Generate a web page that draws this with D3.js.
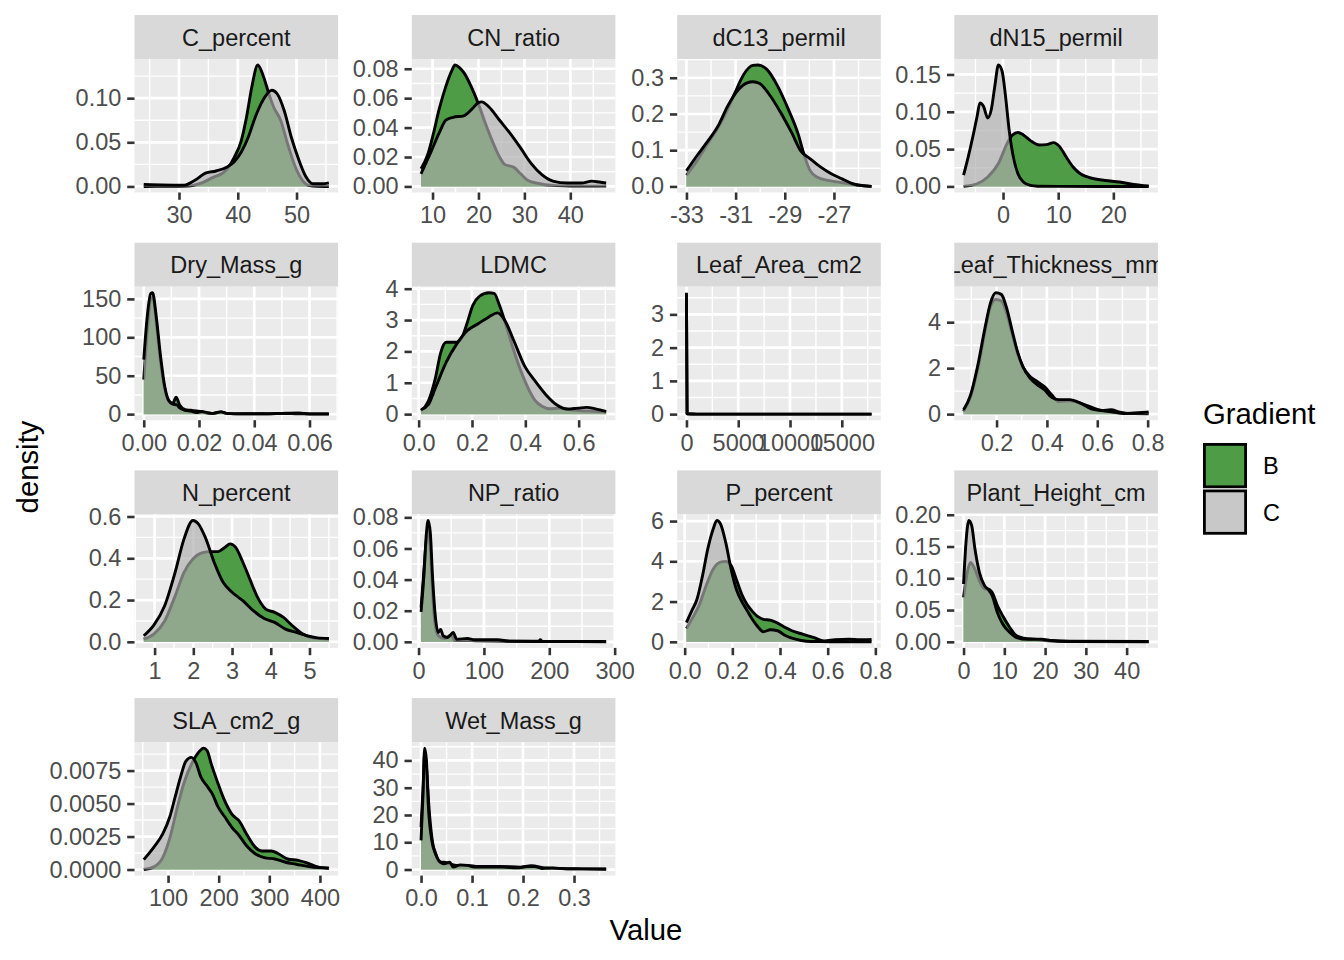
<!DOCTYPE html>
<html><head><meta charset="utf-8">
<script src="https://cdn.jsdelivr.net/npm/d3@7"></script>
<style>
body{margin:0;background:#fff}
svg{display:block}
text{font-family:"Liberation Sans",Arial,Helvetica,sans-serif}
</style>
</head><body>
<svg id="chart" width="1344" height="960"></svg>
<script>
// ---------------- DATA ----------------
const facetNames = ["C_percent","CN_ratio","dC13_permil","dN15_permil","Dry_Mass_g","LDMC","Leaf_Area_cm2","Leaf_Thickness_mm","N_percent","NP_ratio","P_percent","Plant_Height_cm","SLA_cm2_g","Wet_Mass_g"];
const groups = ["B","C"];

// density curves: [value, density]
const C_percent_B = [[24,0],[28,0.0001],[31.5,0.0005],[33.9,0.004],[35.7,0.010],[37.6,0.016],[38.2,0.020],[39.4,0.033],[40.6,0.052],[41.5,0.079],[42.4,0.113],[43.4,0.1375],[44.3,0.126],[45.2,0.107],[46.1,0.090],[47.3,0.075],[48.5,0.048],[49.8,0.022],[51.0,0.007],[52.2,0.001],[53.5,0.0002],[55.5,0]];
const C_percent_C = [[24,0.0023],[27,0.0018],[30.9,0.0015],[32.7,0.007],[34.5,0.015],[36.3,0.0175],[38.2,0.022],[39.4,0.028],[40.6,0.039],[41.8,0.056],[43.0,0.079],[44.3,0.098],[45.8,0.109],[46.7,0.105],[47.9,0.086],[49.1,0.056],[50.4,0.030],[51.6,0.011],[52.8,0.003],[54.3,0.003],[55.5,0.004]];

const CN_ratio_B = [[7.5,0.012],[9.0,0.022],[10.2,0.036],[11.4,0.052],[12.9,0.068],[14.1,0.078],[14.9,0.0825],[15.8,0.081],[16.9,0.077],[18.4,0.068],[20.0,0.056],[21.5,0.043],[23.0,0.031],[24.6,0.020],[25.7,0.015],[27.7,0.013],[29.2,0.0086],[30.8,0.004],[33.1,0.002],[36.2,0.0007],[40,0.0003],[44,0.0002],[47.8,0.0002]];
const CN_ratio_C = [[7.5,0.0086],[9.8,0.0245],[11.4,0.036],[12.9,0.045],[14.5,0.047],[16.8,0.048],[18.4,0.052],[20.0,0.057],[20.7,0.0575],[22.3,0.054],[24.6,0.045],[26.9,0.036],[29.2,0.026],[31.5,0.0155],[33.8,0.008],[36.2,0.0036],[39.3,0.0023],[42.4,0.0023],[44.7,0.0036],[46.3,0.003],[47.8,0.0023]];

const dC13_B = [[-33,0.031],[-32.56,0.072],[-32.13,0.119],[-31.69,0.165],[-31.33,0.212],[-31.03,0.258],[-30.67,0.309],[-30.3,0.334],[-30.09,0.335],[-29.73,0.323],[-29.29,0.277],[-28.85,0.212],[-28.42,0.137],[-28.27,0.10],[-27.98,0.045],[-27.69,0.026],[-27.25,0.0167],[-26.82,0.012],[-26.38,0.0074],[-25.95,0.003],[-25.47,0]];
const dC13_C = [[-33,0.043],[-32.56,0.086],[-32.2,0.119],[-31.69,0.17],[-31.33,0.221],[-30.89,0.267],[-30.53,0.286],[-30.3,0.289],[-30.02,0.284],[-29.58,0.249],[-29.15,0.202],[-28.71,0.147],[-28.35,0.098],[-27.98,0.077],[-27.55,0.054],[-27.11,0.035],[-26.67,0.021],[-26.24,0.0074],[-25.8,0.002],[-25.47,0]];

const dN15_B = [[-7.16,0],[-4.7,0.0036],[-2.77,0.0126],[-0.84,0.0307],[0.77,0.058],[1.74,0.069],[2.7,0.0723],[3.68,0.069],[4.97,0.0614],[6.58,0.0556],[7.87,0.056],[9.16,0.0587],[10.26,0.0533],[11.42,0.0398],[12.7,0.026],[14.0,0.017],[15.9,0.0113],[18.5,0.008],[21.1,0.0059],[23.7,0.0027],[26.4,0.0005]];
const dN15_C = [[-7.16,0.015],[-6.3,0.04],[-5.35,0.071],[-4.7,0.094],[-4.19,0.112],[-3.55,0.1075],[-2.77,0.0917],[-2.13,0.103],[-1.48,0.135],[-0.84,0.1626],[-0.19,0.155],[0.45,0.121],[1.1,0.076],[1.74,0.044],[2.7,0.017],[3.68,0.006],[4.97,0.0014],[6.26,0.0003],[10,0.0001],[18,0],[26.4,0]];

const Dry_Mass_B = [[0,45],[0.0013,110],[0.0025,150],[0.0033,152],[0.0045,120],[0.006,70],[0.0075,35],[0.009,17],[0.0105,14],[0.0117,22],[0.013,12],[0.015,6],[0.017,5],[0.019,4],[0.021,3],[0.023,1.5],[0.025,1],[0.028,3],[0.03,1],[0.035,0.5],[0.04,0.3],[0.045,0.5],[0.05,0.8],[0.055,0.5],[0.06,0.2],[0.067,0.1]];
const Dry_Mass_C = [[0,71],[0.0012,125],[0.0025,157],[0.0032,158],[0.0045,128],[0.006,78],[0.0075,38],[0.009,18],[0.0105,13],[0.012,12],[0.013,8],[0.015,5],[0.017,4],[0.019,2],[0.021,3.5],[0.023,2],[0.025,1],[0.027,2.5],[0.028,3],[0.03,1],[0.035,0.3],[0.04,0.5],[0.045,0.4],[0.05,1],[0.056,1.5],[0.06,0.4],[0.067,0.3]];

const LDMC_B = [[0.009,0.11],[0.036,0.41],[0.063,1.16],[0.083,1.97],[0.103,2.29],[0.123,2.29],[0.143,2.29],[0.163,2.45],[0.183,2.94],[0.203,3.47],[0.229,3.76],[0.263,3.87],[0.283,3.85],[0.303,3.47],[0.33,2.77],[0.357,2.02],[0.383,1.38],[0.41,0.84],[0.437,0.43],[0.463,0.25],[0.49,0.17],[0.53,0.19],[0.57,0.14],[0.61,0.11],[0.663,0.09],[0.703,0.06]];
const LDMC_C = [[0.009,0.14],[0.036,0.3],[0.063,0.84],[0.103,1.65],[0.143,2.24],[0.183,2.67],[0.223,2.88],[0.263,3.1],[0.296,3.23],[0.323,2.99],[0.357,2.34],[0.397,1.54],[0.437,1.05],[0.477,0.62],[0.517,0.3],[0.557,0.16],[0.597,0.19],[0.63,0.215],[0.663,0.17],[0.703,0.086]];

const Leaf_Area_B = [[0,3.6],[60,0.01],[1000,0],[17870,0]];
const Leaf_Area_C = [[0,3.65],[60,0.01],[1000,0],[17870,0]];

const Leaf_Thickness_B = [[0.069,0.12],[0.097,0.77],[0.126,2.0],[0.154,3.6],[0.176,4.7],[0.197,4.99],[0.219,4.92],[0.24,4.4],[0.261,3.53],[0.283,2.66],[0.304,2.08],[0.333,1.64],[0.361,1.42],[0.39,1.2],[0.419,0.84],[0.447,0.55],[0.49,0.58],[0.533,0.48],[0.576,0.3],[0.619,0.16],[0.654,0.19],[0.69,0.09],[0.747,0.02],[0.804,0.015]];
const Leaf_Thickness_C = [[0.069,0.19],[0.097,0.84],[0.126,2.15],[0.154,3.75],[0.176,4.84],[0.197,5.28],[0.219,5.21],[0.24,4.62],[0.261,3.68],[0.283,2.73],[0.304,2.08],[0.333,1.57],[0.361,1.28],[0.39,1.06],[0.419,0.73],[0.447,0.63],[0.49,0.63],[0.533,0.48],[0.576,0.23],[0.619,0.15],[0.661,0.09],[0.704,0.03],[0.761,0.06],[0.804,0.09]];

const N_percent_B = [[0.72,0.013],[0.98,0.037],[1.26,0.1],[1.53,0.22],[1.76,0.333],[1.99,0.397],[2.22,0.426],[2.45,0.432],[2.64,0.432],[2.82,0.453],[2.95,0.469],[3.09,0.453],[3.28,0.381],[3.46,0.3],[3.64,0.22],[3.87,0.157],[4.1,0.141],[4.33,0.117],[4.56,0.077],[4.83,0.037],[5.11,0.018],[5.5,0.013]];
const N_percent_C = [[0.72,0.029],[0.98,0.08],[1.26,0.173],[1.53,0.333],[1.76,0.493],[1.99,0.581],[2.13,0.565],[2.31,0.5],[2.54,0.38],[2.77,0.285],[3.0,0.237],[3.28,0.197],[3.55,0.149],[3.83,0.112],[4.1,0.093],[4.38,0.061],[4.66,0.045],[4.93,0.029],[5.21,0.019],[5.5,0.016]];

const NP_ratio_B = [[3.8,0.022],[8,0.045],[12,0.066],[14.5,0.072],[18,0.06],[21,0.035],[25,0.012],[30,0.004],[40,0.002],[50,0.0045],[55,0.001],[80,0.0008],[120,0.0005],[200,0.0002],[287,0.0001]];
const NP_ratio_C = [[3.8,0.0193],[8.2,0.0425],[12,0.07],[14.7,0.078],[18,0.07],[21.3,0.0425],[25.6,0.0167],[30,0.006],[33.8,0.008],[37.6,0.0039],[44.7,0.0028],[52.9,0.006],[58.3,0.0017],[74.7,0.0021],[85.6,0.0013],[101.9,0.0013],[121,0.0013],[140,0.0004],[183.7,0.0004],[186.4,0.0013],[189,0.0004],[287,0.0003]];

const P_percent_B = [[0.0075,0.66],[0.03,1.13],[0.06,1.8],[0.09,2.79],[0.12,3.62],[0.15,3.96],[0.172,4.0],[0.195,3.79],[0.217,3.1],[0.24,2.35],[0.262,1.85],[0.285,1.5],[0.307,1.25],[0.33,1.12],[0.36,1.08],[0.39,0.93],[0.42,0.72],[0.45,0.55],[0.495,0.38],[0.54,0.22],[0.585,0.05],[0.63,0.1],[0.69,0.13],[0.735,0.1],[0.784,0.12]];
const P_percent_C = [[0.0075,0.96],[0.03,1.55],[0.052,2.13],[0.075,3.29],[0.097,4.62],[0.12,5.62],[0.135,6.03],[0.15,5.87],[0.172,4.95],[0.195,3.6],[0.217,2.6],[0.24,2.0],[0.262,1.55],[0.285,1.1],[0.307,0.75],[0.33,0.5],[0.36,0.6],[0.39,0.55],[0.42,0.33],[0.465,0.13],[0.51,0.03],[0.57,0.01],[0.65,0],[0.784,0]];

const Plant_Height_B = [[0,0.07],[0.9,0.109],[1.7,0.125],[2.6,0.117],[3.9,0.096],[5.2,0.083],[6.1,0.083],[7.0,0.078],[8.3,0.057],[9.6,0.041],[11.3,0.023],[13,0.0095],[14.8,0.0058],[17.4,0.004],[20.9,0.0016],[26,0.0005],[45.4,0]];
const Plant_Height_C = [[0,0.091],[0.6,0.157],[1.3,0.191],[2.0,0.183],[2.8,0.146],[3.9,0.109],[5.2,0.088],[6.1,0.082],[7.0,0.073],[8.3,0.046],[9.6,0.028],[11.3,0.015],[13,0.0068],[15.7,0.004],[19.1,0.004],[21.7,0.002],[26,0.001],[45.4,0.0005]];

const SLA_B = [[52,0],[72,0.0002],[89.5,0.0009],[103.5,0.0024],[117.6,0.0046],[131.7,0.0066],[149,0.0082],[163,0.009],[170,0.0092],[177.5,0.009],[184.5,0.0081],[198,0.0066],[212,0.0052],[226,0.0042],[240,0.0037],[255,0.0027],[272,0.0017],[286,0.0014],[304,0.0014],[318,0.0012],[336,0.0008],[357,0.0007],[374.5,0.0005],[395.6,0.0002],[417.6,0.0001]];
const SLA_C = [[52,0.00075],[72,0.0017],[89.5,0.0027],[103.5,0.004],[114,0.0055],[124.6,0.007],[135,0.0082],[146,0.0085],[155,0.0081],[165,0.007],[177.5,0.0063],[188,0.0057],[198,0.0048],[212,0.004],[226,0.0032],[240,0.0026],[255,0.0018],[272,0.0012],[290,0.0009],[311,0.0008],[332,0.00055],[353,0.0004],[381,0.0002],[417.6,0.0001]];

const Wet_Mass_B = [[0,15.6],[0.004,30.4],[0.007,42.7],[0.011,36.6],[0.0155,23],[0.022,10.7],[0.03,5.2],[0.036,2.7],[0.045,2.7],[0.056,2.1],[0.07,1.5],[0.091,1.5],[0.112,1.1],[0.154,1.1],[0.195,0.9],[0.216,1.4],[0.244,0.6],[0.272,0.4],[0.314,0.25],[0.363,0.12]];
const Wet_Mass_C = [[0,10.7],[0.004,28],[0.007,44.5],[0.0105,40.2],[0.014,24.2],[0.021,10.7],[0.028,5.8],[0.035,3.3],[0.045,2.1],[0.056,2.7],[0.063,0.9],[0.077,1.7],[0.091,1.5],[0.105,0.9],[0.133,0.9],[0.161,0.9],[0.188,0.6],[0.209,1.1],[0.223,1.1],[0.237,0.4],[0.258,0.6],[0.286,0.25],[0.363,0.25]];

// tick labels per facet
const xTickLabels = [
  ["30","40","50"], ["10","20","30","40"], ["-33","-31","-29","-27"], ["0","10","20"],
  ["0.00","0.02","0.04","0.06"], ["0.0","0.2","0.4","0.6"], ["0","5000","10000","15000"], ["0.2","0.4","0.6","0.8"],
  ["1","2","3","4","5"], ["0","100","200","300"], ["0.0","0.2","0.4","0.6","0.8"], ["0","10","20","30","40"],
  ["100","200","300","400"], ["0.0","0.1","0.2","0.3"]
];
const yTickLabels = [
  ["0.00","0.05","0.10"], ["0.00","0.02","0.04","0.06","0.08"], ["0.0","0.1","0.2","0.3"], ["0.00","0.05","0.10","0.15"],
  ["0","50","100","150"], ["0","1","2","3","4"], ["0","1","2","3"], ["0","2","4"],
  ["0.0","0.2","0.4","0.6"], ["0.00","0.02","0.04","0.06","0.08"], ["0","2","4","6"], ["0.00","0.05","0.10","0.15","0.20"],
  ["0.0000","0.0025","0.0050","0.0075"], ["0","10","20","30","40"]
];
const curvesB = [C_percent_B,CN_ratio_B,dC13_B,dN15_B,Dry_Mass_B,LDMC_B,Leaf_Area_B,Leaf_Thickness_B,N_percent_B,NP_ratio_B,P_percent_B,Plant_Height_B,SLA_B,Wet_Mass_B];
const curvesC = [C_percent_C,CN_ratio_C,dC13_C,dN15_C,Dry_Mass_C,LDMC_C,Leaf_Area_C,Leaf_Thickness_C,N_percent_C,NP_ratio_C,P_percent_C,Plant_Height_C,SLA_C,Wet_Mass_C];

// ---------------- LAYOUT / STYLE ----------------
const colLeft = [134.5, 411.8, 677.2, 954.3];
const stripTop = [15, 242.7, 470.4, 698.1];
const PW = 203.6, PH = 133.5, SH = 44;
const fillB = "#4e9c46";
const fillC = "#aeaeae", alphaC = 0.68;
const colorOf = {B: fillB, C: fillC};
const alphaOf = {B: 1, C: alphaC};
const AX = 23.5;

const svg = d3.select("#chart");
svg.append("rect").attr("width",1344).attr("height",960).attr("fill","#fff");
const defs = svg.append("defs");

function minorBreaks(majors, dom){
  const step = majors[1]-majors[0];
  const b = [majors[0]-step, ...majors, majors[majors.length-1]+step];
  const out = [];
  for (let k=0;k<b.length-1;k++){ const m=(b[k]+b[k+1])/2; if (m>=dom[0] && m<=dom[1]) out.push(m); }
  return out;
}

facetNames.forEach((name, i) => {
  const col = i % 4, row = Math.floor(i / 4);
  const left = colLeft[col], sTop = stripTop[row], top = sTop + SH;
  const dataB = curvesB[i], dataC = curvesC[i];
  const all = dataB.concat(dataC);
  const [x0, x1] = d3.extent(all, d => d[0]);
  const xr = x1 - x0;
  const ymax = d3.max(all, d => d[1]);
  const xDom = [x0 - 0.05*xr, x1 + 0.05*xr];
  const yDom = [-0.05*ymax, 1.05*ymax];
  const x = d3.scaleLinear().domain(xDom).range([left, left+PW]);
  const y = d3.scaleLinear().domain(yDom).range([top+PH, top]);
  const xt = xTickLabels[i].map(Number), yt = yTickLabels[i].map(Number);

  const g = svg.append("g");
  // strip
  defs.append("clipPath").attr("id","sclip"+i).append("rect")
    .attr("x",left).attr("y",sTop).attr("width",PW).attr("height",SH);
  g.append("rect").attr("x",left).attr("y",sTop).attr("width",PW).attr("height",SH).attr("fill","#D9D9D9");
  g.append("text").attr("clip-path","url(#sclip"+i+")")
    .attr("x",left+PW/2).attr("y",sTop+SH/2+0.5).attr("dy","0.35em")
    .attr("text-anchor","middle").attr("font-size",AX).attr("fill","#1A1A1A").text(name);

  // panel
  defs.append("clipPath").attr("id","pclip"+i).append("rect")
    .attr("x",left).attr("y",top).attr("width",PW).attr("height",PH);
  g.append("rect").attr("x",left).attr("y",top).attr("width",PW).attr("height",PH).attr("fill","#EBEBEB");
  const grid = g.append("g").attr("stroke","#fff");
  minorBreaks(xt, xDom).forEach(v => grid.append("line").attr("x1",x(v)).attr("x2",x(v)).attr("y1",top).attr("y2",top+PH).attr("stroke-width",1.4));
  minorBreaks(yt, yDom).forEach(v => grid.append("line").attr("y1",y(v)).attr("y2",y(v)).attr("x1",left).attr("x2",left+PW).attr("stroke-width",1.4));
  xt.forEach(v => grid.append("line").attr("x1",x(v)).attr("x2",x(v)).attr("y1",top).attr("y2",top+PH).attr("stroke-width",2.7));
  yt.forEach(v => grid.append("line").attr("y1",y(v)).attr("y2",y(v)).attr("x1",left).attr("x2",left+PW).attr("stroke-width",2.7));

  const area = d3.area().curve(d3.curveMonotoneX).x(d => x(d[0])).y0(y(0)).y1(d => y(d[1]));
  const line = d3.line().curve(d3.curveMonotoneX).x(d => x(d[0])).y(d => y(d[1]));
  const pg = g.append("g").attr("clip-path","url(#pclip"+i+")");
  [["B",dataB],["C",dataC]].forEach(([k,d]) => {
    pg.append("path").datum(d).attr("d",area).attr("fill",colorOf[k]).attr("fill-opacity",alphaOf[k]);
    pg.append("path").datum(d).attr("d",line).attr("fill","none").attr("stroke","#000").attr("stroke-width",2.9).attr("stroke-linejoin","round");
  });

  // axes
  const xa = g.append("g").attr("transform",`translate(0,${top+PH})`)
    .call(d3.axisBottom(x).tickValues(xt).tickFormat((d,j)=>xTickLabels[i][j]).tickSize(7.3).tickPadding(6.8));
  const ya = g.append("g").attr("transform",`translate(${left},0)`)
    .call(d3.axisLeft(y).tickValues(yt).tickFormat((d,j)=>yTickLabels[i][j]).tickSize(7.3).tickPadding(5.9));
  [xa, ya].forEach(a => {
    a.select(".domain").remove();
    a.selectAll(".tick line").attr("stroke","#333333").attr("stroke-width",2.6);
    a.selectAll(".tick text").attr("font-size",AX).attr("fill","#4D4D4D").attr("font-family",'"Liberation Sans",Arial,sans-serif');
  });
});

// axis titles
svg.append("text").attr("x",646).attr("y",940).attr("text-anchor","middle").attr("font-size",29.3).attr("fill","#000").text("Value");
svg.append("text").attr("transform","translate(38,467) rotate(-90)").attr("text-anchor","middle").attr("font-size",29.3).attr("fill","#000").text("density");

// legend
const lg = svg.append("g");
lg.append("text").attr("x",1203).attr("y",424).attr("font-size",29.3).attr("fill","#000").text("Gradient");
groups.forEach((k, j) => {
  const ky = 443 + j*46.5;
  lg.append("rect").attr("x",1204.4).attr("y",ky+1.4).attr("width",41.2).attr("height",42.4)
    .attr("fill",colorOf[k]).attr("fill-opacity",alphaOf[k]).attr("stroke","#000").attr("stroke-width",2.8);
  lg.append("text").attr("x",1263).attr("y",ky+23).attr("dy","0.35em").attr("font-size",AX).attr("fill","#000").text(k);
});
</script>
</body></html>
